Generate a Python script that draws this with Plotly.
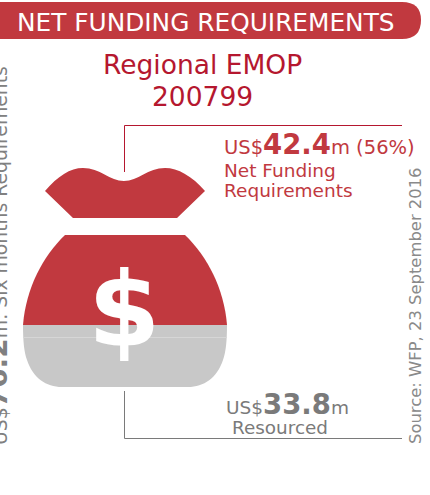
import plotly.graph_objects as go

# Figures shown on the graphic
header_text = "NET FUNDING REQUIREMENTS"
title_lines = ["Regional EMOP", "200799"]
total_req = "76.2"
shortfall = "42.4"
shortfall_pct = "56%"
resourced = "33.8"
source_text = "Source: WFP, 23 September 2016"

RED = "#c1393f"
DARK_RED = "#b5172f"
GREY = "#c8c8c8"
TEXT_GREY = "#7a7a7a"
FONT = "DejaVu Sans"

fig = go.Figure()


def add_path(path, color):
    fig.add_shape(type="path", path=path, fillcolor=color, line=dict(width=0),
                  xref="x", yref="y")


def add_text(x, y, text, size, color, anchor="left", angle=0, family=FONT, yanchor="middle"):
    # x in paper units so text can hang off the left edge, like the reference
    fig.add_annotation(x=x / 430, y=y, text=text, showarrow=False, xanchor=anchor, yanchor=yanchor,
                       textangle=angle, font=dict(family=family, size=size, color=color),
                       xref="paper", yref="y", align="left")


# header bar
add_path("M -20 2 L 402 2 Q 421 2 421 20 Q 421 39 402 39 L -20 39 Z", RED)

# bag: tie part
add_path("M 45 191 C 58 176 70 168 83 168 C 100 168 110 181 124 181 "
         "C 138 181 148 168 165 168 C 178 168 192 176 205 191 L 177 218 L 73 218 Z", RED)
# bag: funded / unfunded body
add_path("M 65 235 L 185 235 C 207 256 224 288 227 325 L 23 325 C 26 288 43 256 65 235 Z", RED)
add_path("M 23 325 L 227 325 C 227 340 226 352 223 360 C 217 378 204 387 188 387 "
         "L 62 387 C 46 387 33 378 27 360 C 24 352 23 340 23 325 Z", GREY)
fig.add_shape(type="line", x0=23, x1=227, y0=337.5, y1=337.5, line=dict(color="#d6d6d6", width=1))

# connector lines
fig.add_shape(type="path", path="M 124.5 172 L 124.5 125.5 L 402 125.5", line=dict(color=DARK_RED, width=1))
fig.add_shape(type="path", path="M 124.5 391 L 124.5 438.5 L 402 438.5", line=dict(color=TEXT_GREY, width=1))

add_text(206, 22, header_text, 24.8, "white", anchor="center")
add_text(202, 64, title_lines[0], 26.5, DARK_RED, anchor="center")
add_text(202, 96, title_lines[1], 26.5, DARK_RED, anchor="center")

add_text(124, 310, "<b>$</b>", 104, "white", anchor="center")

add_text(222, 144, f"US$<b style='font-size:27.5px'>{shortfall}</b>m ({shortfall_pct})", 19.5, RED)
add_text(222, 170, "Net Funding", 18.5, RED)
add_text(222, 190, "Requirements", 18.5, RED)

add_text(224, 404, f"US$<b style='font-size:27.5px'>{resourced}</b>m", 18.5, TEXT_GREY)
add_text(230, 427, "Resourced", 18.4, TEXT_GREY)

add_text(415, 306, source_text, 16.4, "#8a8a8a", anchor="center", angle=-90)
add_text(-3, 256, f"US$<b style='font-size:28px'>{total_req}</b>m: Six months Requirements", 18.8, "#808080",
         anchor="center", angle=-90)

fig.update_layout(
    width=430, height=495, margin=dict(l=0, r=0, t=0, b=0),
    paper_bgcolor="white", plot_bgcolor="white", showlegend=False,
    xaxis=dict(range=[0, 430], visible=False, fixedrange=True),
    yaxis=dict(range=[495, 0], visible=False, fixedrange=True),
)

fig.write_html("out.html", config={"displayModeBar": False},
               post_script="document.body.style.margin='0';document.body.style.overflow='hidden';")
